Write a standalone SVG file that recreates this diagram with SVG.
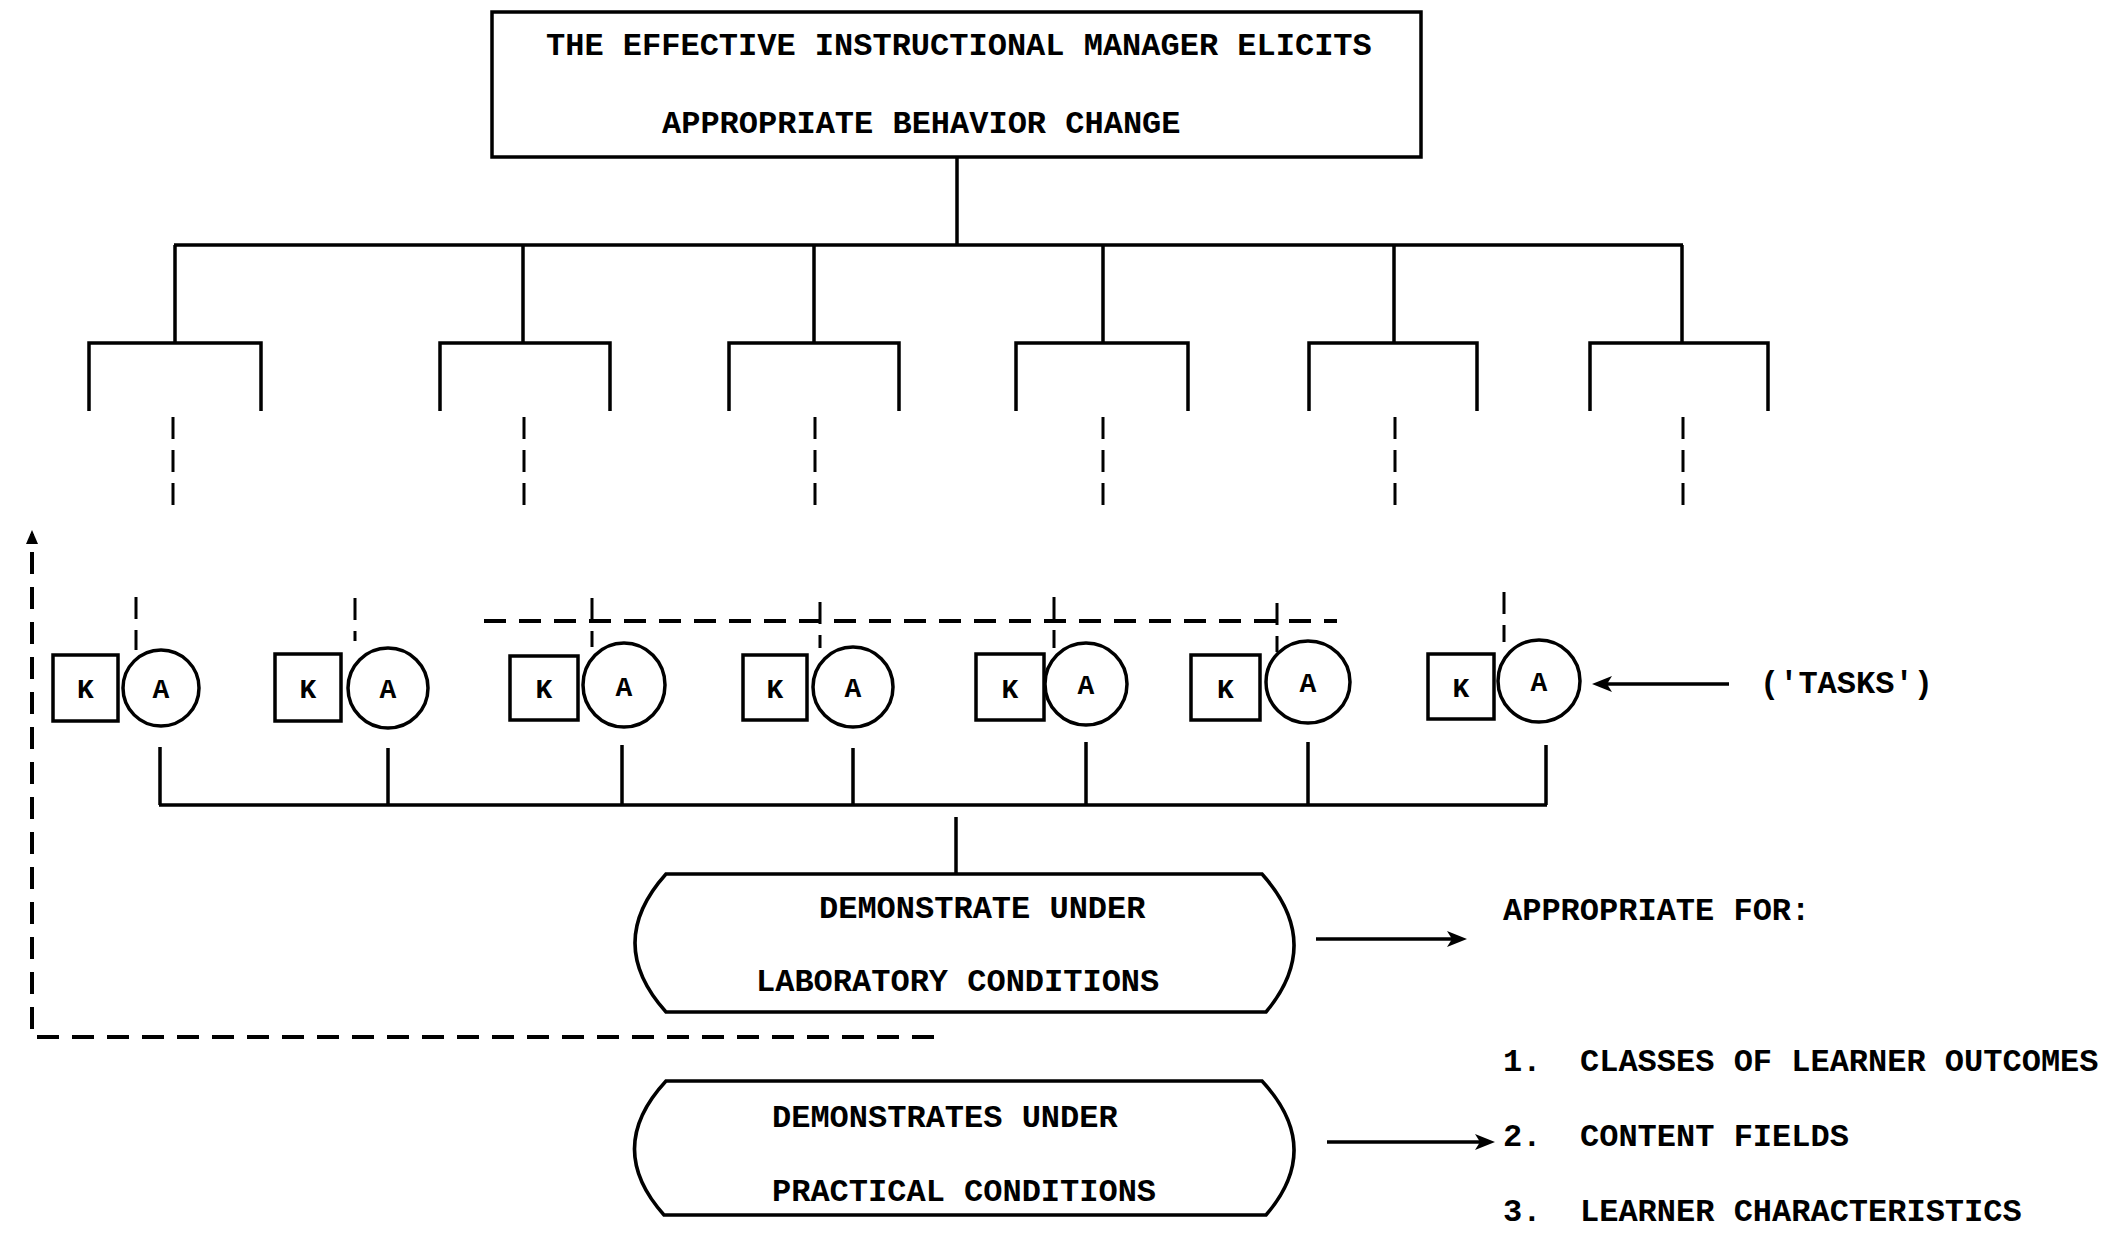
<svg xmlns="http://www.w3.org/2000/svg" width="2126" height="1235" viewBox="0 0 2126 1235">
<style>
.ln{stroke:#000;stroke-width:3.5;fill:none;stroke-linecap:butt}
.dv{stroke:#000;stroke-width:3;fill:none;stroke-dasharray:22 11}
.dh{stroke:#000;stroke-width:4;fill:none;stroke-dasharray:22 13}
.t{font-family:"Liberation Mono","DejaVu Sans Mono",monospace;font-weight:bold;font-size:32px;fill:#000}
.s{font-family:"Liberation Mono","DejaVu Sans Mono",monospace;font-weight:bold;font-size:28px;fill:#000;text-anchor:middle}
.box{stroke:#000;stroke-width:3.5;fill:#fff}
</style>
<defs>
<marker id="ah" markerUnits="userSpaceOnUse" markerWidth="20" markerHeight="16" viewBox="0 0 20 16" refX="15" refY="8" orient="auto">
<path d="M0,0 L20,8 L0,16 L5,8 Z" fill="#000"/>
</marker>
<marker id="ahs" markerUnits="userSpaceOnUse" markerWidth="14" markerHeight="14" viewBox="0 0 14 14" refX="10" refY="7" orient="auto">
<path d="M0,1 L14,7 L0,13 Z" fill="#000"/>
</marker>
</defs>

<g id="connectors">
<path class="ln" d="M957,157 V245 M174,245 H1683 M175,245 V344 M523,245 V344 M814,245 V344 M1103,245 V344 M1394,245 V344 M1682,245 V344"/>
<path class="ln" d="M89,411 V343 H261 V411 M440,411 V343 H610 V411 M729,411 V343 H899 V411 M1016,411 V343 H1188 V411 M1309,411 V343 H1477 V411 M1590,411 V343 H1768 V411"/>
<path class="dv" d="M173,417 V512 M524,417 V512 M815,417 V512 M1103,417 V512 M1395,417 V512 M1683,417 V512"/>
<path class="dh" d="M484,621 H1337"/>
<path class="dv" d="M136,597 V650 M355,598 V641 M592,598 V647 M820,602 V648 M1054,597 V648 M1277,603 V652 M1504,592 V642"/>
<path class="ln" d="M160,747 V805 M388,748 V805 M622,745 V805 M853,748 V805 M1086,742 V805 M1308,742 V805 M1546,745 V805 M159,805 H1547"/>
<path class="ln" d="M956,817 V874"/>
<line class="ln" x1="1729" y1="684" x2="1597" y2="684" marker-end="url(#ah)"/>
<line class="ln" x1="1316" y1="939" x2="1462" y2="939" marker-end="url(#ah)"/>
<line class="ln" x1="1327" y1="1142" x2="1490" y2="1142" marker-end="url(#ah)"/>
<path class="dh" d="M934,1037 H32 V534" marker-end="url(#ahs)"/>
</g>

<g id="top-box">
<rect class="box" x="492" y="12" width="929" height="145"/>
<text class="t" x="546" y="55">THE EFFECTIVE INSTRUCTIONAL MANAGER ELICITS</text>
<text class="t" x="662" y="133">APPROPRIATE BEHAVIOR CHANGE</text>
</g>

<g id="task-1"><rect class="box" x="53" y="655" width="65" height="66"/><text class="s" x="85.5" y="698">K</text><ellipse class="box" cx="161" cy="688" rx="38" ry="38"/><text class="s" x="161" y="698">A</text></g>
<g id="task-2"><rect class="box" x="275" y="654" width="66" height="67"/><text class="s" x="308" y="698">K</text><ellipse class="box" cx="388" cy="688" rx="40" ry="40"/><text class="s" x="388" y="698">A</text></g>
<g id="task-3"><rect class="box" x="510" y="656" width="68" height="64"/><text class="s" x="544" y="698">K</text><ellipse class="box" cx="624" cy="685" rx="41" ry="42"/><text class="s" x="624" y="696">A</text></g>
<g id="task-4"><rect class="box" x="743" y="655" width="64" height="65"/><text class="s" x="775" y="698">K</text><ellipse class="box" cx="853" cy="687" rx="40" ry="40"/><text class="s" x="853" y="697">A</text></g>
<g id="task-5"><rect class="box" x="976" y="654" width="68" height="66"/><text class="s" x="1010" y="698">K</text><ellipse class="box" cx="1086" cy="684" rx="41" ry="41"/><text class="s" x="1086" y="694">A</text></g>
<g id="task-6"><rect class="box" x="1191" y="655" width="69" height="65"/><text class="s" x="1225.5" y="698">K</text><ellipse class="box" cx="1308" cy="682" rx="42" ry="41"/><text class="s" x="1308" y="692">A</text></g>
<g id="task-7"><rect class="box" x="1428" y="654" width="66" height="65"/><text class="s" x="1461" y="697">K</text><ellipse class="box" cx="1539" cy="681" rx="41" ry="41"/><text class="s" x="1539" y="691">A</text></g>

<g id="tasks-label"><text class="t" x="1760" y="693" font-size="31">('TASKS')</text></g>

<g id="lab-box">
<path class="box" d="M666,874 L1262,874 Q1324,943 1266,1012 L666,1012 Q604,943 666,874 Z"/>
<text class="t" x="819" y="918">DEMONSTRATE UNDER</text>
<text class="t" x="756" y="991">LABORATORY CONDITIONS</text>
</g>

<g id="practical-box">
<path class="box" d="M666,1081 L1262,1081 Q1324,1148 1266,1215 L664,1215 Q604,1148 666,1081 Z"/>
<text class="t" x="772" y="1127">DEMONSTRATES UNDER</text>
<text class="t" x="772" y="1201">PRACTICAL CONDITIONS</text>
</g>

<g id="appropriate-for">
<text class="t" x="1503" y="920">APPROPRIATE FOR:</text>
<text class="t" x="1503" y="1071">1.</text><text class="t" x="1580" y="1071">CLASSES OF LEARNER OUTCOMES</text>
<text class="t" x="1503" y="1146">2.</text><text class="t" x="1580" y="1146">CONTENT FIELDS</text>
<text class="t" x="1503" y="1221">3.</text><text class="t" x="1580" y="1221">LEARNER CHARACTERISTICS</text>
</g>
</svg>
